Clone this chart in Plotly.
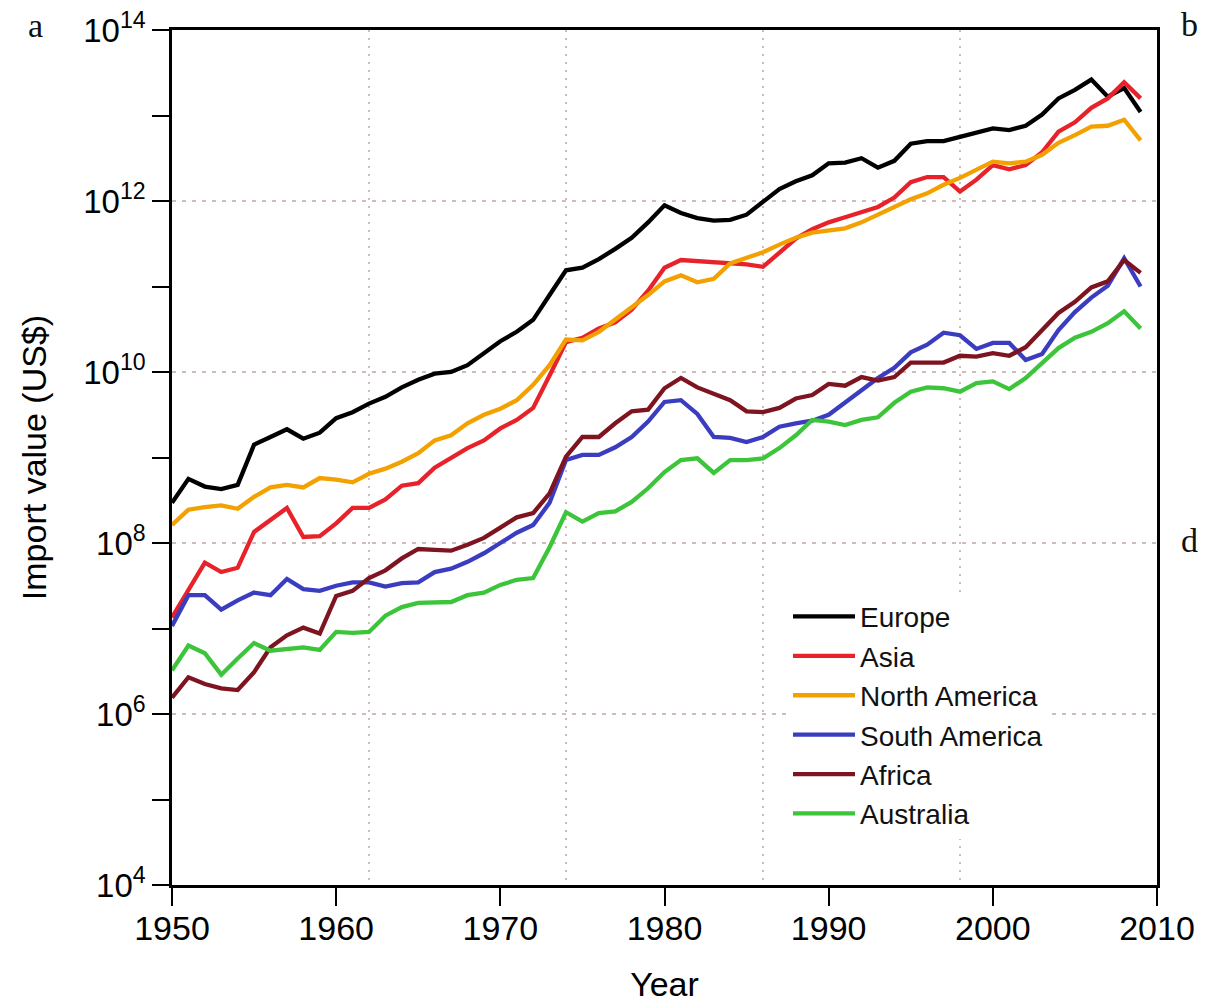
import plotly.graph_objects as go

years = list(range(1950, 2010))

# log10 of import value (US$)
europe_log10 = [8.47, 8.75, 8.66, 8.63, 8.68, 9.15, 9.24, 9.33, 9.22, 9.29,
                9.46, 9.53, 9.63, 9.71, 9.82, 9.91, 9.98, 10.00, 10.08, 10.22,
                10.36, 10.47, 10.61, 10.90, 11.19, 11.22, 11.32, 11.44, 11.57, 11.75,
                11.95, 11.86, 11.80, 11.77, 11.78, 11.84, 11.99, 12.14, 12.23, 12.30,
                12.44, 12.45, 12.50, 12.39, 12.47, 12.67, 12.70, 12.70, 12.75, 12.80,
                12.85, 12.83, 12.88, 13.01, 13.20, 13.30, 13.42, 13.22, 13.32, 13.04]
asia_log10 = [7.13, 7.45, 7.77, 7.66, 7.71, 8.13, 8.27, 8.41, 8.07, 8.08,
              8.23, 8.41, 8.41, 8.51, 8.67, 8.70, 8.88, 8.99, 9.11, 9.20,
              9.34, 9.44, 9.58, 9.96, 10.35, 10.40, 10.51, 10.58, 10.73, 10.95,
              11.22, 11.31, 11.30, 11.28, 11.27, 11.26, 11.23, 11.39, 11.56, 11.67,
              11.75, 11.81, 11.87, 11.93, 12.04, 12.22, 12.28, 12.28, 12.11, 12.25,
              12.42, 12.37, 12.42, 12.57, 12.81, 12.92, 13.09, 13.20, 13.39, 13.20]
north_america_log10 = [8.21, 8.39, 8.42, 8.44, 8.40, 8.54, 8.65, 8.68, 8.65, 8.76,
                       8.74, 8.71, 8.81, 8.87, 8.95, 9.05, 9.20, 9.26, 9.40, 9.50,
                       9.57, 9.67, 9.85, 10.08, 10.38, 10.37, 10.47, 10.61, 10.75, 10.90,
                       11.06, 11.13, 11.05, 11.09, 11.27, 11.33, 11.40, 11.49, 11.57, 11.63,
                       11.66, 11.68, 11.75, 11.84, 11.93, 12.02, 12.09, 12.19, 12.27, 12.36,
                       12.46, 12.44, 12.46, 12.54, 12.68, 12.77, 12.87, 12.88, 12.95, 12.71]
south_america_log10 = [7.03, 7.39, 7.39, 7.22, 7.33, 7.42, 7.39, 7.58, 7.46, 7.44,
                       7.50, 7.54, 7.54, 7.49, 7.53, 7.54, 7.66, 7.70, 7.78, 7.88,
                       8.00, 8.12, 8.21, 8.47, 8.97, 9.03, 9.03, 9.12, 9.24, 9.42,
                       9.65, 9.67, 9.51, 9.24, 9.23, 9.18, 9.24, 9.36, 9.40, 9.43,
                       9.50, 9.64, 9.79, 9.93, 10.05, 10.23, 10.32, 10.46, 10.43, 10.27,
                       10.34, 10.34, 10.14, 10.21, 10.49, 10.70, 10.87, 11.01, 11.33, 11.00]
africa_log10 = [6.19, 6.43, 6.35, 6.30, 6.28, 6.49, 6.78, 6.92, 7.01, 6.94,
                7.38, 7.44, 7.59, 7.68, 7.82, 7.93, 7.92, 7.91, 7.98, 8.06,
                8.18, 8.30, 8.35, 8.58, 9.01, 9.24, 9.24, 9.40, 9.54, 9.56,
                9.81, 9.93, 9.82, 9.74, 9.67, 9.54, 9.53, 9.58, 9.69, 9.73,
                9.86, 9.84, 9.94, 9.90, 9.94, 10.11, 10.11, 10.11, 10.19, 10.18,
                10.22, 10.19, 10.29, 10.49, 10.69, 10.82, 10.99, 11.06, 11.31, 11.16]
australia_log10 = [6.51, 6.80, 6.71, 6.46, 6.65, 6.83, 6.74, 6.76, 6.78, 6.75,
                   6.96, 6.95, 6.96, 7.15, 7.25, 7.30, 7.30, 7.31, 7.39, 7.42,
                   7.51, 7.57, 7.59, 7.95, 8.36, 8.25, 8.35, 8.37, 8.48, 8.64,
                   8.83, 8.97, 8.99, 8.82, 8.97, 8.97, 8.99, 9.11, 9.26, 9.44,
                   9.42, 9.38, 9.44, 9.47, 9.64, 9.77, 9.82, 9.81, 9.77, 9.87,
                   9.89, 9.80, 9.93, 10.11, 10.28, 10.40, 10.47, 10.57, 10.71, 10.51]

series_names = ["Europe", "Asia", "North America", "South America", "Africa", "Australia"]
series_log10 = [europe_log10, asia_log10, north_america_log10,
                south_america_log10, africa_log10, australia_log10]
series_colors = ["#000000", "#e8222a", "#f2a100", "#3a3dbf", "#7e1420", "#3cc43a"]

x_tick_vals = [1950, 1960, 1970, 1980, 1990, 2000, 2010]
x_grid_vals = [1962, 1974, 1986, 1998]
y_label_exponents = [4, 6, 8, 10, 12, 14]
y_minor_exponents = [5, 7, 9, 11, 13]

FONT = "Liberation Sans, Arial, Helvetica, sans-serif"
SERIF = "Liberation Serif, Times New Roman, serif"
GRID = "#cfbcbc"

fig = go.Figure()
for name, logs, color in zip(series_names, series_log10, series_colors):
    fig.add_trace(go.Scatter(
        x=years, y=[10 ** v for v in logs], mode="lines", name=name,
        line=dict(color=color, width=4.3)))

fig.update_layout(
    width=1205, height=1003,
    margin=dict(l=172, r=48, t=30, b=118, autoexpand=False),
    plot_bgcolor="white", paper_bgcolor="white",
    font=dict(family=FONT, color="black"),
    showlegend=True,
    legend=dict(x=0.6254, y=0.343, xanchor="left", yanchor="top",
                bgcolor="white", borderwidth=0, itemwidth=62,
                font=dict(family=FONT, size=28, color="#111"),
                tracegroupgap=0),
)

fig.update_xaxes(
    range=[1950, 2010], tickmode="array", tickvals=x_tick_vals,
    ticks="outside", ticklen=18, tickwidth=2.2, tickcolor="black",
    tickfont=dict(size=34, family=FONT), ticklabelstandoff=-7,
    showline=True, linecolor="black", linewidth=2.5, mirror=True,
    showgrid=False, zeroline=False, automargin=False,
    minor=dict(tickmode="array", tickvals=x_grid_vals, ticks="",
               showgrid=True, gridcolor=GRID, griddash="2px,6px", gridwidth=1.6),
    title=dict(text="Year", font=dict(size=34, family=FONT), standoff=30),
)

fig.update_yaxes(
    type="log", range=[4, 14], tickmode="array",
    tickvals=[10 ** e for e in y_label_exponents],
    ticktext=["10<sup>%d</sup>" % e for e in y_label_exponents],
    ticks="outside", ticklen=17, tickwidth=2.2, tickcolor="black",
    tickfont=dict(size=33, family=FONT),
    showline=True, linecolor="black", linewidth=2.5, mirror=True,
    showgrid=True, gridcolor=GRID, griddash="4px,6px", gridwidth=1.6,
    zeroline=False, automargin=False,
    minor=dict(tickmode="array", tickvals=[10 ** e for e in y_minor_exponents],
               ticks="outside", ticklen=17, tickwidth=2.2, tickcolor="black",
               showgrid=False),
    title=dict(text="Import value (US$)", font=dict(size=34, family=FONT), standoff=27),
)

for letter, xp, yp in [("a", -0.139, 1.005), ("b", 1.0335, 1.006), ("d", 1.0335, 0.4035)]:
    fig.add_annotation(text=letter, xref="paper", yref="paper", x=xp, y=yp,
                       xanchor="center", yanchor="middle", showarrow=False,
                       font=dict(family=SERIF, size=34, color="#111"))

fig.write_html("out.html", config={"displayModeBar": False},
               post_script="document.body.style.margin='0';document.body.style.overflow='hidden';")
